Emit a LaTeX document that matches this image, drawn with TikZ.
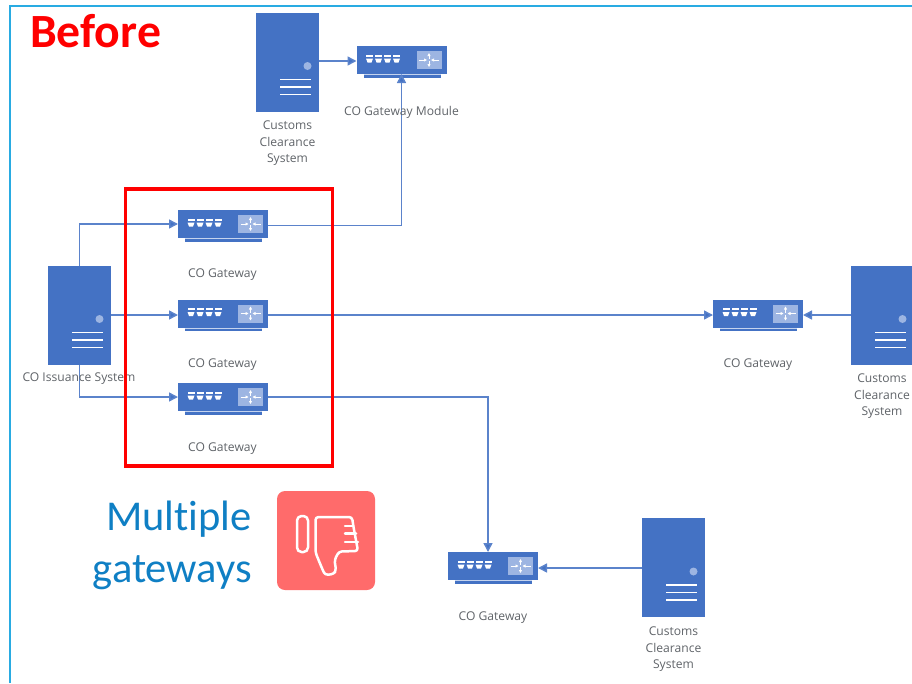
\documentclass[tikz,border=0pt]{standalone}
\usepackage{fontspec}
\setmainfont{Open Sans}
\newfontfamily\carl[Ligatures=NoCommon]{Carlito}
\usetikzlibrary{arrows.meta}
\definecolor{ublue}{HTML}{4472C4}
\definecolor{ulight}{HTML}{9DB5E2}
\definecolor{ugrey}{HTML}{5F6368}
\definecolor{uline}{HTML}{5B83CB}
\definecolor{uframe}{HTML}{29ABE2}
\definecolor{umulti}{HTML}{0F7FC4}
\definecolor{uthumb}{HTML}{FF6B6B}
\tikzset{
  serverbox/.style={fill=ublue,draw=none,minimum width=63pt,minimum height=99pt,inner sep=0pt,outer sep=0pt},
  gatebox/.style={fill=ublue,draw=none,minimum width=90pt,minimum height=28pt,inner sep=0pt,outer sep=0pt},
  conn/.style={draw=uline,line width=1.5pt,-{Triangle[length=9pt,width=9pt,fill=ublue]}},
  lab/.style={text=ugrey,font=\fontsize{12.1}{16.5}\selectfont,align=center,inner sep=0pt},
  whiteln/.style={draw=white,line width=1.9pt},
  thumbln/.style={draw=white,line width=2.5pt,line join=round,line cap=round}
}
% #1 name, #2 x, #3 y (centre of the box)
\newcommand{\servernode}[3]{%
  \node[serverbox] (#1) at (#2,#3) {};
  \fill[ulight] (#2+20,#3+4) circle (4pt);
  \foreach \dy in {17.5,25,32.5} {\draw[whiteln] (#2-7.5,#3+\dy) -- (#2+23.5,#3+\dy);}
}
\newcommand{\gatenode}[3]{%
  \fill[ublue] (#2-38,#3+14) rectangle (#2+39,#3+17.5);
  \fill[ulight!60] (#2-38,#3+14) rectangle (#2+39,#3+15);
  \node[gatebox] (#1) at (#2,#3) {};
  \foreach \dx in {-35,-26,-17,-8} {
    \fill[white] (#2+\dx-0.5,#3-5.5) rectangle (#2+\dx+6.5,#3-3.3);
    \fill[white] (#2+\dx-0.5,#3-1.5) -- (#2+\dx+6.5,#3-1.5) -- (#2+\dx+5,#3+2.5) -- (#2+\dx+1,#3+2.5) -- cycle;
  }
  \fill[ulight] (#2+15,#3-9) rectangle (#2+40,#3+9);
  \draw[white,line width=0.8pt,-{Triangle[length=3pt,width=3pt]}] (#2+17.5,#3) -- (#2+25.5,#3);
  \draw[white,line width=0.8pt,-{Triangle[length=3pt,width=3pt]}] (#2+37.5,#3) -- (#2+29.5,#3);
  \draw[white,line width=0.8pt,-{Triangle[length=3pt,width=3pt]}] (#2+27.5,#3-1) -- (#2+27.5,#3-7);
  \draw[white,line width=0.8pt,-{Triangle[length=3pt,width=3pt]}] (#2+27.5,#3+1) -- (#2+27.5,#3+7);
}
\begin{document}
\begin{tikzpicture}[x=1pt,y=-1pt]
\useasboundingbox (0,0) rectangle (912,683);
\begin{scope}
\clip (0,0) rectangle (912,683);
\draw[uframe,line width=2pt] (10,683) -- (10,6) -- (912,6);

\servernode{srvtop}{287.5}{62}
\servernode{srviss}{79.5}{315}
\servernode{srvright}{882.5}{315}
\servernode{srvbot}{673.5}{567.5}

\gatenode{gmod}{401.5}{60}
\gatenode{ga}{223}{224}
\gatenode{gb}{223}{313.5}
\gatenode{gc}{223}{397}
\gatenode{gd}{758}{313.5}
\gatenode{ge}{493}{566}

\draw[conn] (srvtop.east |- 0,61) -- ([yshift=-1pt]gmod.west);
\draw[conn] (srviss.north) |- (ga.west);
\draw[conn] (srviss.east) -- ([yshift=-1.5pt]gb.west);
\draw[conn] (srviss.south) |- (gc.west);
\draw[conn] ([yshift=-1.5pt]ga.east) -| (gmod.south);
\draw[conn] ([yshift=-1.5pt]gb.east) -- ([yshift=-1.5pt]gd.west);
\draw[conn] (gc.east) -| ([xshift=-5pt]ge.north);
\draw[conn] (srvright.west) -- ([yshift=-1.5pt]gd.east);
\draw[conn] (srvbot.west |- 0,568) -- ([yshift=-2pt]ge.east);

\node[lab] (ltop) at (287.5,143.5) {Customs\\Clearance\\System};
\node[lab] (lmod) at (401.5,112) {CO Gateway Module};
\node[lab] (liss) at (79,379) {CO Issuance System};
\node[lab] (la) at (222.5,275) {CO Gateway};
\node[lab] (lb) at (222.5,365) {CO Gateway};
\node[lab] (lc) at (222.5,449) {CO Gateway};
\node[lab] (ld) at (758,365) {CO Gateway};
\node[lab] (le) at (493,618) {CO Gateway};
\node[lab] (lright) at (882,396.5) {Customs\\Clearance\\System};
\node[lab] (lbot) at (673.5,649.5) {Customs\\Clearance\\System};

\node[draw=red,line width=3.5pt,minimum width=207pt,minimum height=277pt,inner sep=0pt] (redbox) at (229,327.5) {};

\node[inner sep=0pt,anchor=base west,text=red,font=\carl\bfseries\fontsize{47.7}{48}\selectfont] (before) at (30,47) {Before};
\node[inner sep=0pt,anchor=base east,text=umulti,font=\carl\fontsize{42.5}{52}\selectfont,align=right] (multi) at (252,530) {Multiple};
\node[inner sep=0pt,anchor=base east,text=umulti,font=\carl\fontsize{42.5}{52}\selectfont,align=right] (gates) at (252,582) {gateways};

\node[fill=uthumb,rounded corners=8pt,minimum width=98pt,minimum height=99pt,inner sep=0pt] (tile) at (326,540.5) {};
\draw[thumbln,rounded corners=4.5pt] (297,516) rectangle (308,552);
\draw[thumbln,rounded corners=3pt] (315.5,552.5) -- (315.5,517) -- (352,517) -- (353.5,527) -- (358,551) -- (339,551.5) -- (334.5,560) -- (336,570) -- (334,574) -- (325,575) -- (321,566) -- (319,561) -- cycle;
\draw[thumbln] (345,526) -- (353,526);
\draw[thumbln] (345,533.5) -- (356,533.5);
\draw[thumbln] (345,542) -- (358,542);
\end{scope}
\end{tikzpicture}
\end{document}
